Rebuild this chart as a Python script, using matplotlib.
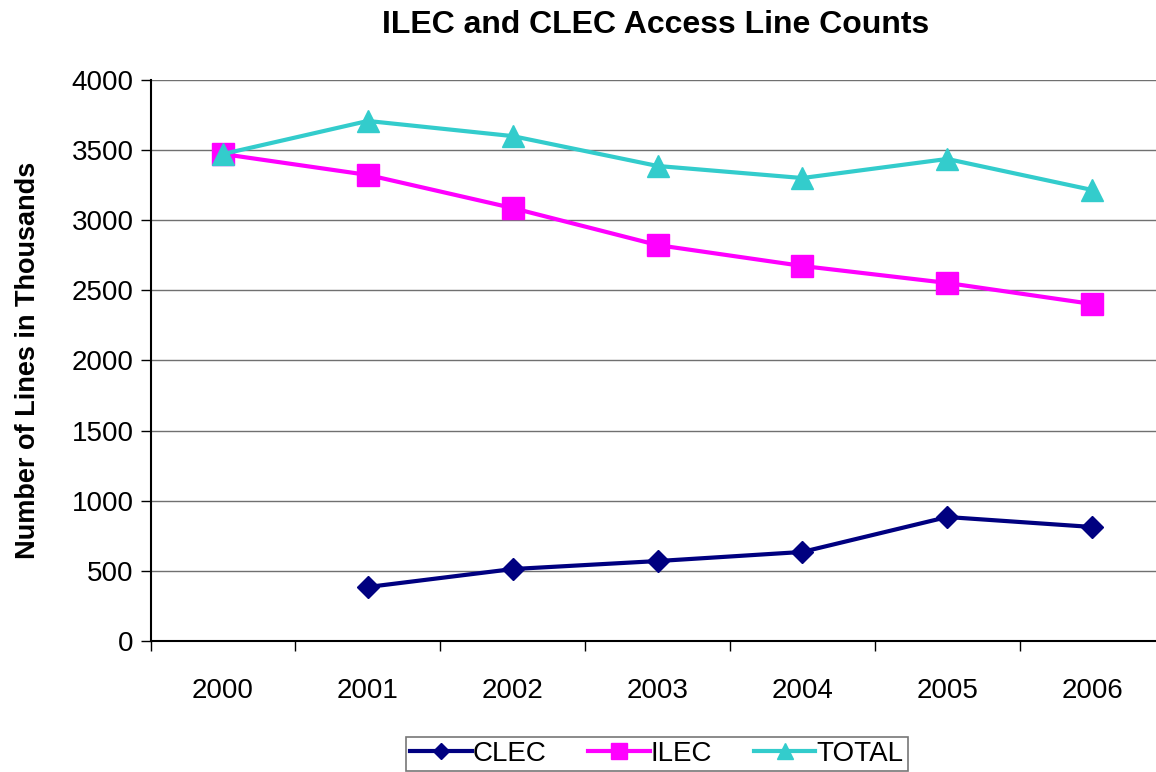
import matplotlib.pyplot as plt
import numpy as np

plt.rcParams["font.family"] = ["Liberation Sans", "DejaVu Sans"]

years = ["2000", "2001", "2002", "2003", "2004", "2005", "2006"]
clec = [np.nan, 385, 513, 570, 635, 884, 813]
ilec = [3472, 3323, 3087, 2823, 2674, 2553, 2403]
total = [3472, 3708, 3600, 3387, 3301, 3437, 3216]

fig = plt.figure(figsize=(11.56, 7.72), dpi=100)
ax = fig.add_axes([150.5 / 1156, 1 - 641 / 772, 1014 / 1156, 561 / 772])

x = np.arange(len(years))
ax.plot(x, clec, color="#000080", lw=3, marker="D", ms=11, label="CLEC")
ax.plot(x, ilec, color="#FF00FF", lw=3, marker="s", ms=16, label="ILEC")
ax.plot(x, total, color="#33CCCC", lw=3, marker="^", ms=16, label="TOTAL")

ax.set_xlim(-0.5, len(years) - 0.5)
ax.set_ylim(0, 4000)
ax.set_yticks(np.arange(0, 4001, 500))
ax.set_xticks(x)
ax.set_xticklabels(years)
ax.set_xticks(np.arange(-0.5, len(years)), minor=True)
ax.tick_params(axis="x", which="major", length=0, labelsize=20, pad=27)
ax.tick_params(axis="x", which="minor", length=7, width=1, direction="out")
ax.tick_params(axis="y", length=7, width=1, direction="out", labelsize=20, pad=5)

ax.grid(axis="y", color="#707070", lw=1)
ax.set_axisbelow(True)
for side in ("top", "right"):
    ax.spines[side].set_visible(False)
ax.spines["left"].set_linewidth(1.5)
ax.spines["bottom"].set_linewidth(1.5)

ax.set_ylabel("Number of Lines in Thousands", fontsize=19.5, fontweight="bold", labelpad=22)
fig.text(656 / 1156, 1 - 25 / 772, "ILEC and CLEC Access Line Counts",
         ha="center", va="center", fontsize=23, fontweight="bold")

leg = fig.legend(loc="center", bbox_to_anchor=(657 / 1156, 1 - 754 / 772), ncol=3,
                 fontsize=20, frameon=True, fancybox=False, handlelength=2.2,
                 markerscale=0.75, handletextpad=0.05, columnspacing=1.5,
                 borderpad=0.15)
leg.get_frame().set_edgecolor("#555555")
leg.get_frame().set_linewidth(1.2)

fig.savefig("out.png", dpi=100)
plt.close(fig)
